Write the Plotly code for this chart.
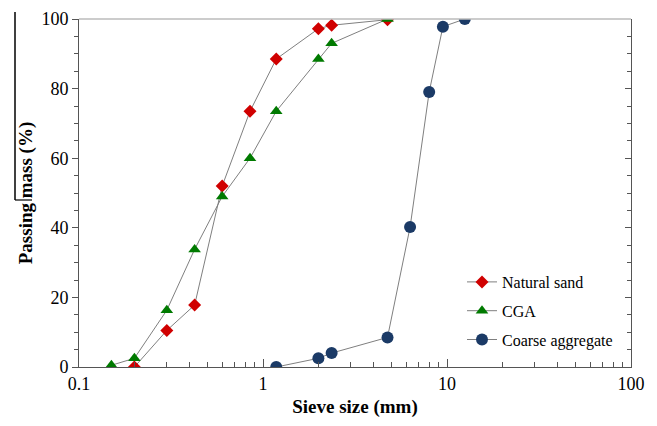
import plotly.graph_objects as go

sand_x = [0.2, 0.3, 0.425, 0.6, 0.85, 1.18, 2.0, 2.36, 4.75]
sand_y = [0.0, 10.5, 17.8, 52.0, 73.5, 88.5, 97.2, 98.2, 99.8]
cga_x = [0.15, 0.2, 0.3, 0.425, 0.6, 0.85, 1.18, 2.0, 2.36, 4.75]
cga_y = [0.5, 2.5, 16.3, 33.8, 49.0, 60.0, 73.5, 88.5, 93.0, 100.0]
coarse_x = [1.18, 2.0, 2.36, 4.75, 6.3, 8.0, 9.5, 12.5]
coarse_y = [0.0, 2.5, 4.0, 8.5, 40.2, 79.0, 97.8, 100.0]

font = "Liberation Serif"
line_col = "#7f7f7f"
axis_col = "#555555"

fig = go.Figure()
fig.add_trace(go.Scatter(x=sand_x, y=sand_y, name="Natural sand", mode="lines+markers",
                         legendgroup="a",
                         line=dict(color=line_col, width=1),
                         marker=dict(symbol="diamond", size=10, color="#d00000")))
fig.add_trace(go.Scatter(x=cga_x, y=cga_y, name="CGA", mode="lines+markers",
                         legendgroup="b",
                         line=dict(color=line_col, width=1),
                         marker=dict(symbol="triangle-up", size=11, color="#007a00")))
fig.add_trace(go.Scatter(x=coarse_x, y=coarse_y, name="Coarse aggregate", mode="lines+markers",
                         legendgroup="c",
                         line=dict(color=line_col, width=1),
                         marker=dict(symbol="circle", size=12, color="#1b3a66")))
fig.add_trace(go.Scatter(x=[1], y=[50], yaxis="y2", showlegend=False, mode="markers",
                         marker=dict(opacity=0), hoverinfo="skip"))

# page body has an 8px margin: plot area should sit at x 79..631, y 19..367 in the window
W, H = 641, 410
L, T = 79 - 8, 19 - 8
R = W - (631 - 8)
B = H - (367 - 8)
pw, ph = 631 - 79, 367 - 19


def px(xw):
    return (xw - 79) / pw


def py(yw):
    return (367 - yw) / ph


fig.update_layout(
    width=W, height=H,
    margin=dict(l=L, r=R, t=T, b=B, autoexpand=False),
    paper_bgcolor="white", plot_bgcolor="white",
    font=dict(family=font, size=18, color="black"),
    xaxis=dict(type="log", range=[-1, 2], showgrid=False, zeroline=False, automargin=False,
               showline=True, linecolor=axis_col, linewidth=1,
               ticks="inside", ticklen=8, tickcolor=axis_col,
               tickvals=[0.1, 1, 10, 100], ticktext=["0.1", "1", "10", "100"],
               tickfont=dict(size=18),
               minor=dict(ticks="inside", ticklen=5, tickcolor=axis_col,
                          tickvals=[0.2, 0.3, 0.4, 0.5, 0.6, 0.7, 0.8, 0.9,
                                    2, 3, 4, 5, 6, 7, 8, 9,
                                    20, 30, 40, 50, 60, 70, 80, 90]),
               title=dict(text="<b>Sieve size (mm)</b>", font=dict(size=19), standoff=10)),
    yaxis=dict(range=[0, 100], showgrid=False, zeroline=False, automargin=False,
               showline=True, linecolor=axis_col, linewidth=1,
               ticks="outside", ticklen=6, tickcolor=axis_col, dtick=20,
               tickfont=dict(size=18),
               minor=dict(ticks="outside", ticklen=4, dtick=5, tickcolor=axis_col),
               title=dict(text="<b>Passing mass (%)</b>", font=dict(size=19), standoff=3)),
    yaxis2=dict(range=[0, 100], overlaying="y", side="right", showgrid=False, zeroline=False,
                showline=True, linecolor=axis_col, linewidth=1, automargin=False,
                ticks="inside", ticklen=6, tickcolor=axis_col, dtick=20, showticklabels=False,
                minor=dict(ticks="inside", ticklen=4, dtick=5, tickcolor=axis_col)),
    legend=dict(x=px(462), y=py(265), xanchor="left", yanchor="top",
                bgcolor="rgba(255,255,255,0)", font=dict(size=16), tracegroupgap=5,
                itemwidth=30),
    shapes=[
        dict(type="line", xref="paper", yref="paper", x0=0, x1=1, y0=1, y1=1,
             line=dict(color="#bbbbbb", width=1.5)),
        dict(type="line", xref="paper", yref="paper", x0=px(15), x1=px(15), y0=py(12), y1=py(200),
             line=dict(color="black", width=1.5)),
        dict(type="line", xref="paper", yref="paper", x0=px(15), x1=px(32), y0=py(200), y1=py(200),
             line=dict(color="black", width=1.2)),
    ],
)

fig.write_html("out.html")
